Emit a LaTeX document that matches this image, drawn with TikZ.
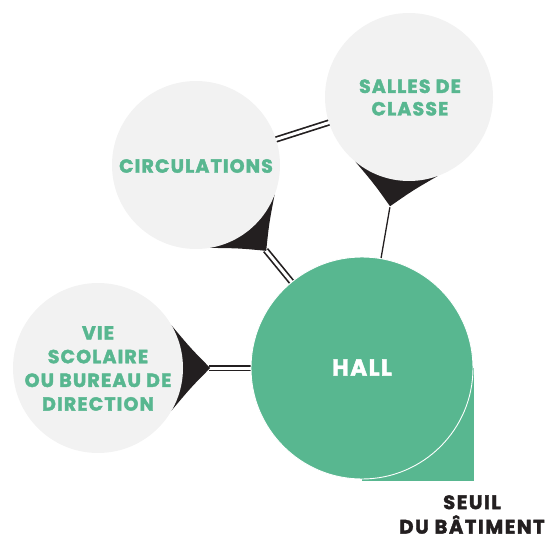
\documentclass[tikz,border=0pt]{standalone}
\usepackage{fontspec}
\setmainfont{Poppins}
\newfontfamily\lblfont{Poppins}[LetterSpace=6, BoldFeatures={FakeBold=2}]
\newfontfamily\seuilfont{Poppins}[LetterSpace=8, BoldFeatures={FakeBold=2}]
\usetikzlibrary{calc}
\definecolor{hallgreen}{HTML}{58B790}
\definecolor{lightgrey}{HTML}{F2F2F2}
\definecolor{inkdark}{HTML}{231F20}
\pgfdeclarelayer{bg}
\pgfsetlayers{bg,main}
\newcommand{\myfunnel}[3]{%
  \fill[funnelfill] ($(#1.center)!#3*1pt!30:(#2.center)$)
    .. controls ($(#1.center)!#3*1.115pt!12:(#2.center)$) ..
    ($(#1.center)!#3*1.32pt!(#2.center)$)
    .. controls ($(#1.center)!#3*1.115pt!-12:(#2.center)$) ..
    ($(#1.center)!#3*1pt!-30:(#2.center)$) -- (#1.center) -- cycle;}
\begin{document}
\begin{tikzpicture}[x=1pt,y=-1pt,
  greycirc/.style={circle, fill=lightgrey, minimum size=168pt, inner sep=0pt},
  circtext/.style={font=\lblfont\bfseries\fontsize{19}{22.5}\selectfont, text=hallgreen, align=center, inner sep=0pt},
  dbl/.style={draw=inkdark, line width=1.7pt, double=white, double distance=3pt},
  sgl/.style={draw=inkdark, line width=1.3pt},
  funnelfill/.style={fill=inkdark}]
\useasboundingbox (0,0) rectangle (551,537);
% circles
\node[greycirc] (circ) at (196,165) {};
\node[greycirc] (salles) at (409,97) {};
\node[greycirc, minimum size=170pt] (vie) at (98,368) {};
\fill[hallgreen] (362,368) rectangle (474,481);
\node[circle, fill=hallgreen, draw=white, line width=0.9pt, minimum size=222pt, inner sep=0pt] (hall) at (362,368) {};
% connectors
\begin{pgfonlayer}{bg}
\coordinate (acirc) at ($(circ.center)!110pt!(hall.center)$);
\coordinate (asalles) at ($(salles.center)!112pt!(hall.center)$);
\coordinate (avie) at ($(vie.center)!111pt!(hall.center)$);
\draw[dbl] (circ.center) -- (salles.center);
\draw[dbl] (acirc) -- (hall.center);
\draw[sgl] (asalles) -- (hall.center);
\draw[dbl] (avie) -- (hall.center);
\myfunnel{circ}{hall}{84}
\myfunnel{salles}{hall}{84}
\myfunnel{vie}{hall}{85}
\end{pgfonlayer}
% texts
\node[circtext] (tcirc) at (196,166) {CIRCULATIONS};
\node[circtext] (tsalles) at (410,97.5) {SALLES DE\\CLASSE};
\node[circtext, font=\lblfont\bfseries\fontsize{19}{23.7}\selectfont] (tvie) at (98,368.5) {VIE\\SCOLAIRE\\OU BUREAU DE\\DIRECTION};
\node[font=\lblfont\bfseries\fontsize{23}{26}\selectfont, text=white, inner sep=0pt] (thall) at (362,367.5) {HALL};
\node[font=\seuilfont\bfseries\fontsize{19.5}{24.5}\selectfont, text=inkdark, align=center, inner sep=0pt] (tseuil) at (472,514.5) {SEUIL\\DU BÂTIMENT};
\end{tikzpicture}
\end{document}
